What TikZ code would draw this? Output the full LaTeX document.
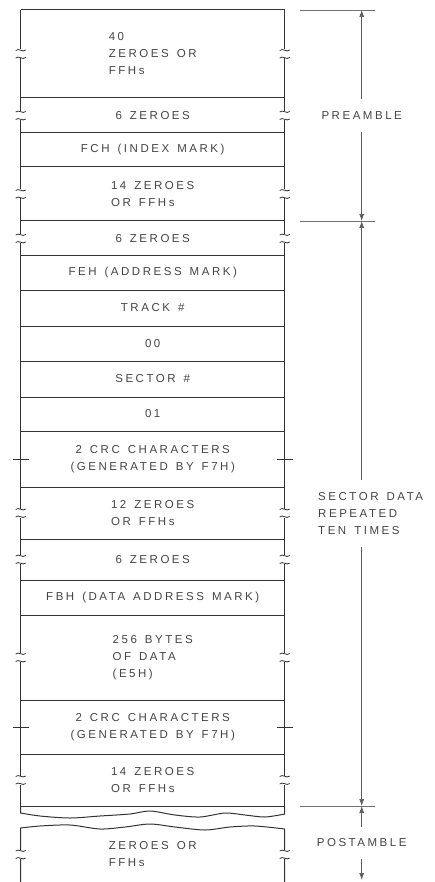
\documentclass[tikz,border=0pt]{standalone}
\usepackage{fontspec}
\newfontfamily\letterfont{Liberation Sans}[LetterSpace=22, WordSpace=1.4]
\usetikzlibrary{positioning, calc, arrows.meta}
\definecolor{ink}{HTML}{333333}
\definecolor{lettering}{HTML}{444444}

\begin{document}
\begin{tikzpicture}[
    x=1pt, y=-1pt,
    font=\letterfont\fontsize{11.5}{17}\selectfont,
    boxline/.style={draw=ink, line width=1pt},
    fld/.style={
        minimum width=264pt,
        minimum height=#1,
        inner sep=0pt,
        outer sep=0pt,
        align=left,
        text=lettering
    },
    ext/.style={draw=ink!70, line width=0.6pt},
    dim/.style={draw=ink!80, line width=0.7pt, -{Latex[length=7pt,width=5pt]}},
    lbl/.style={align=left, inner xsep=0pt, inner ysep=12pt, text=lettering},
    brk/.pic={
        \fill[white] (-6,-4.5) rectangle (6,4.5);
        \draw[boxline, line width=0.8pt] (-5,-3.5) .. controls (-2,-6.5) and (2,-1) .. (5,-4);
        \draw[boxline, line width=0.8pt] (-5,4) .. controls (-2,1) and (2,6.5) .. (5,3.5);
    },
    tick/.pic={\draw[boxline, line width=0.8pt] (-8,0) -- (8,0);}
]
\useasboundingbox (0,0) rectangle (435,882);

% Preamble fields
\node[fld=88pt, anchor=north] (R1) at (152.7,10) {40\\ZEROES OR\\FFHs};
\node[fld=35pt, below=0pt of R1] (R2) {6 ZEROES};
\node[fld=34pt, below=0pt of R2] (R3) {FCH (INDEX MARK)};
\node[fld=54pt, below=0pt of R3] (R4) {14 ZEROES\\OR FFHs};

% Sector fields
\node[fld=35pt, below=0pt of R4] (R5) {6 ZEROES};
\node[fld=34pt, below=0pt of R5] (R6) {FEH (ADDRESS MARK)};
\node[fld=36pt, below=0pt of R6] (R7) {TRACK \#};
\node[fld=35pt, below=0pt of R7] (R8) {00};
\node[fld=36pt, below=0pt of R8] (R9) {SECTOR \#};
\node[fld=34pt, below=0pt of R9] (R10) {01};
\node[fld=56pt, below=0pt of R10, align=center] (R11) {2 CRC CHARACTERS\\(GENERATED BY F7H)};
\node[fld=52pt, below=0pt of R11] (R12) {12 ZEROES\\OR FFHs};
\node[fld=41pt, below=0pt of R12] (R13) {6 ZEROES};
\node[fld=35pt, below=0pt of R13] (R14) {FBH (DATA ADDRESS MARK)};
\node[fld=85pt, below=0pt of R14] (R15) {256 BYTES\\OF DATA\\(E5H)};
\node[fld=54pt, below=0pt of R15, align=center] (R16) {2 CRC CHARACTERS\\(GENERATED BY F7H)};
\node[fld=52pt, below=0pt of R16] (R17) {14 ZEROES\\OR FFHs};

% Postamble field
\node[fld=55pt, below=21pt of R17] (R18) {ZEROES OR\\FFHs};

% Field borders
\draw[boxline] (R1.north west) -- (R1.north east);
\foreach \r in {R1,R2,R3,R4,R5,R6,R7,R8,R9,R10,R11,R12,R13,R14,R15,R16,R17}
    \draw[boxline] (\r.south west) -- (\r.south east);
\draw[boxline] (R1.north west) -- (R17.south west);
\draw[boxline] (R1.north east) -- (R17.south east);

% Torn edges
\draw[boxline] (R17.south west) -- plot[smooth] coordinates {(20.7,813) (40,816) (70,818) (100,816) (130,814) (150,811) (175,815) (200,817) (225,813) (245,815) (265,817) (284.7,814)} -- (R17.south east);
\draw[boxline] (R18.south west) -- plot[smooth] coordinates {(20.7,828) (40,826) (70,825) (100,829) (125,827) (150,824) (175,827) (205,830) (230,827) (255,826) (284.7,829)} -- (R18.south east);

% Break marks
\foreach \r in {R1,R2,R4,R5,R12,R13,R15,R17,R18} {
    \pic at (\r.west) {brk};
    \pic at (\r.east) {brk};
}
\foreach \r in {R11,R16} {
    \pic at (\r.west) {tick};
    \pic at (\r.east) {tick};
}

% Dimension lines
\coordinate[right=77pt of R1.north east] (d0);
\coordinate[right=77pt of R4.south east] (d1);
\coordinate[right=77pt of R17.south east] (d2);
\coordinate[right=77pt of R18.south east, yshift=2pt] (d3);
\foreach \d in {d0,d1,d2}
    \draw[ext] ([xshift=-62pt]\d) -- ([xshift=13pt]\d);

\node[lbl] (Pre) at ($(d0)!0.5!(d1)$) {PREAMBLE};
\node[lbl, xshift=9pt] (Sec) at ($(d1)!0.5!(d2)$) {SECTOR DATA\\REPEATED\\TEN TIMES};
\node[lbl] (Post) at ($(d2)!0.5!(d3)$) {POSTAMBLE};

\draw[dim] (Pre.north -| d0) -- (d0);
\draw[dim] (Pre.south -| d1) -- (d1);
\draw[dim] (Sec.north -| d1) -- (d1);
\draw[dim] (Sec.south -| d2) -- (d2);
\draw[dim] (Post.north -| d2) -- (d2);
\draw[dim] (Post.south -| d3) -- (d3);

\end{tikzpicture}
\end{document}
